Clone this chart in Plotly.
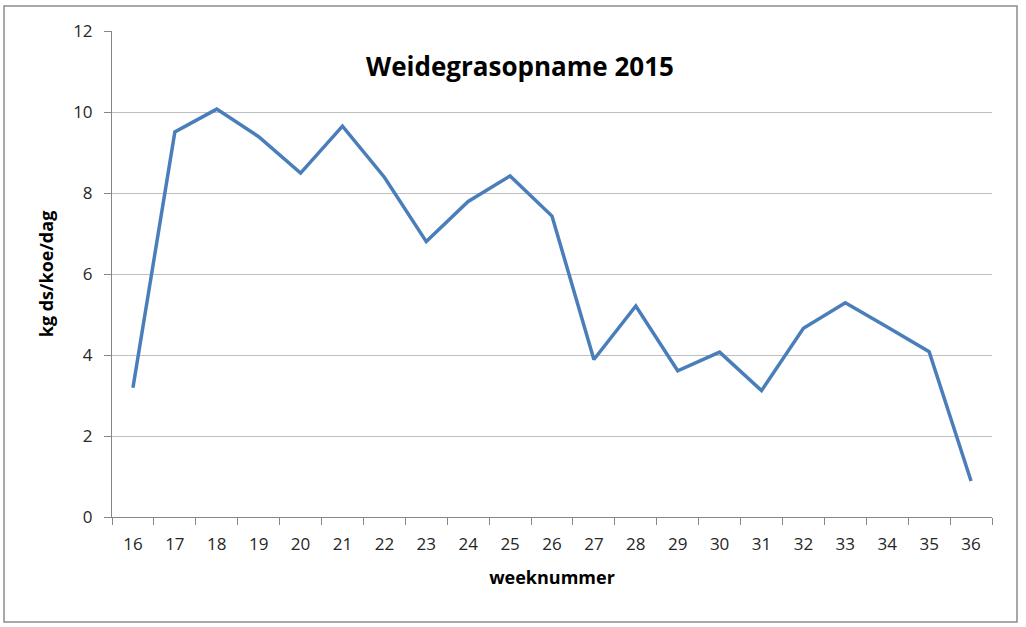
import plotly.graph_objects as go

weeks = [str(w) for w in range(16, 37)]
opname = [3.19, 9.51, 10.07, 9.39, 8.49, 9.65, 8.39, 6.80, 7.79, 8.42, 7.43,
          3.89, 5.21, 3.61, 4.07, 3.12, 4.66, 5.29, 4.69, 4.08, 0.89]
y_ticks = [0, 2, 4, 6, 8, 10, 12]

font_name = "Open Sans, sans-serif"

fig = go.Figure()
fig.add_trace(go.Scatter(
    x=weeks,
    y=opname,
    mode="lines",
    line=dict(color="#4a7ebb", width=3.5),
    showlegend=False,
))

fig.update_layout(
    width=1026,
    height=627,
    margin=dict(l=112, r=34, t=31, b=110),
    paper_bgcolor="white",
    plot_bgcolor="white",
    font=dict(family=font_name, size=17, color="#262626"),
    title=dict(
        text="<b>Weidegrasopname 2015</b>",
        x=520 / 1026, xanchor="center",
        y=1 - 67 / 627, yanchor="middle",
        font=dict(size=26, color="black"),
    ),
    # grey frame around the whole chart
    shapes=[dict(
        type="rect", xref="paper", yref="paper",
        x0=-0.1227, x1=1.0284, y0=-0.216, y1=1.0514,
        line=dict(color="#8c8c8c", width=1.5),
    )],
)

fig.update_xaxes(
    type="category",
    tickson="boundaries",
    range=[-0.5, len(weeks) - 0.5],
    ticks="outside",
    ticklen=7,
    tickcolor="#868686",
    tickfont=dict(size=17),
    ticklabelstandoff=12,
    showline=True,
    linecolor="#868686",
    linewidth=1,
    showgrid=False,
    title=dict(text="<b>weeknummer</b>", standoff=16, font=dict(size=18, color="black")),
)
fig.update_yaxes(
    range=[0, 12],
    tickvals=y_ticks,
    ticks="outside",
    ticklen=7,
    tickcolor="#868686",
    tickfont=dict(size=17),
    ticklabelstandoff=8,
    showline=True,
    linecolor="#868686",
    linewidth=1,
    gridcolor="#bfbfbf",
    gridwidth=1,
    zeroline=False,
    title=dict(text="<b>kg ds/koe/dag</b>", standoff=14, font=dict(size=18, color="black")),
)

# drop the default page margin so the chart sits at the window corner
fig.write_html("out.html", config={"displayModeBar": False},
               post_script="document.body.style.margin='0';")
